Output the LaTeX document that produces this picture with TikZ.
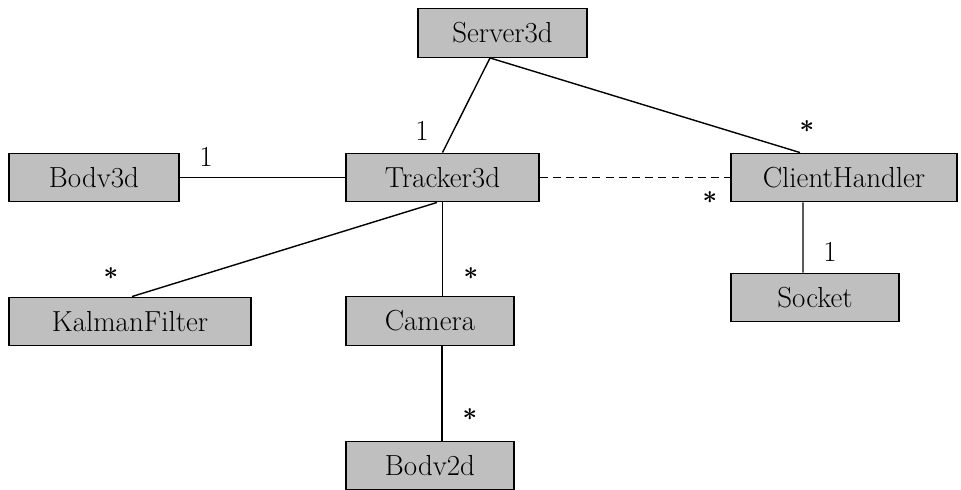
\documentclass[tikz,border=0pt]{standalone}
\usepackage{fontspec}
\usepackage{tikz}
\usetikzlibrary{calc,positioning}

\begin{document}
\begin{tikzpicture}[thick,inner sep=2pt,
                    classbox/.style={rectangle,draw,fill=black!25,minimum height=0.97cm,
                                     font=\fontsize{16.5}{19}\selectfont},
                    mult/.style={inner sep=0pt,font=\fontsize{16.5}{19}\selectfont},
                    star/.style={inner sep=0pt,font=\fontsize{14}{16}\selectfont\boldmath}]
\useasboundingbox (0,0) rectangle (19.22,-9.78);
\begin{scope}
\node[classbox,minimum width=3.86cm] (3) at (8.85,-3.55)                  {Tracker3d};
\node[classbox,minimum width=3.38cm] (1) at ($ (3) + ( 1.20,  2.89) $) {Server3d};
\node[classbox,minimum width=3.40cm] (2) at ($ (3) + (-6.97,  0.00) $) {Bodv3d};
\node[classbox,minimum width=4.52cm] (4) at ($ (3) + ( 8.03,  0.00) $) {ClientHandler};
\node[classbox,minimum width=4.84cm] (5) at ($ (3) + (-6.25, -2.88) $) {KalmanFilter};
\node[classbox,minimum width=3.36cm] (6) at ($ (3) + (-0.25, -2.87) $) {Camera};
\node[classbox,minimum width=3.36cm] (7) at ($ (4) + (-0.58, -2.40) $) {Socket};
\node[classbox,minimum width=3.36cm] (8) at ($ (6) + ( 0.00, -2.89) $) {Bodv2d};
%
\path
  ([xshift=-0.25cm]1.south) edge (3.north)
  ([xshift=-0.25cm]1.south) edge ([xshift=-0.88cm]4.north)
  (2) edge (3)
  ([xshift=-0.11cm]3.south) edge ([xshift=0.04cm]5.north)
  ([xshift=0.25cm]6.north) edge (3.south)
  ([xshift=0.24cm]6.south) edge ([xshift=0.24cm]8.north)
  ([xshift=-0.82cm]4.south) edge ([xshift=-0.24cm]7.north)
  (3) edge[dash pattern=on 4.5pt off 3pt] (4)
  ;
\end{scope}
%
% multiplicities
\node[mult] (m1) at (4.12,-3.14)  {1};
\node[mult] (m2) at (8.44,-2.62)  {1};
\node[star] (m3) at (16.14,-2.54) {$\ast$};
\node[star] (m4) at (14.20,-3.96) {$\ast$};
\node[mult] (m5) at (16.60,-5.04) {1};
\node[star] (m6) at (2.22,-5.48)  {$\ast$};
\node[star] (m7) at (9.42,-5.48)  {$\ast$};
\node[star] (m8) at (9.40,-8.30)  {$\ast$};
\end{tikzpicture}
\end{document}
